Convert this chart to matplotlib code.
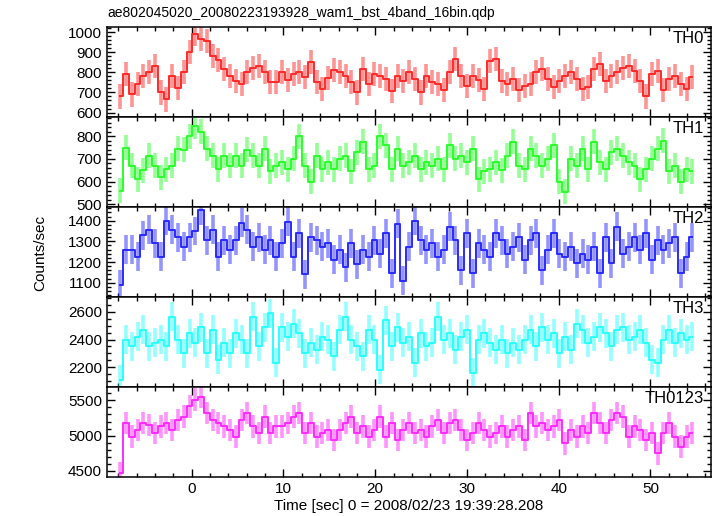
import numpy as np
import matplotlib
matplotlib.use("Agg")
import matplotlib.pyplot as plt
from matplotlib.ticker import MultipleLocator

plt.rcParams['font.family'] = ['Liberation Sans', 'DejaVu Sans']

title = "ae802045020_20080223193928_wam1_bst_4band_16bin.qdp"
xlabel = "Time [sec] 0 = 2008/02/23 19:39:28.208"
ylabel = "Counts/sec"

# light curve bins (sec) at ~0.63 s resolution
t_start = -7.8
t_step = 0.63

names = ["TH0", "TH1", "TH2", "TH3", "TH0123"]
colors = ["#ff2a2a", "#2aff2a", "#2a2aff", "#2affff", "#ff2aff"]

th0 = [680, 790, 690, 740, 780, 800, 830, 700, 665, 780,
       720, 800, 900, 990, 965, 955, 880, 860, 815, 780,
       755, 740, 800, 820, 830, 800, 750, 750, 800, 760,
       790, 800, 775, 850, 750, 715, 770, 810, 800, 780,
       750, 700, 815, 740, 790, 780, 765, 705, 780, 755,
       800, 765, 700, 780, 750, 740, 710, 800, 865, 780,
       730, 780, 760, 715, 855, 865, 755, 740, 765, 710,
       730, 740, 800, 815, 765, 725, 755, 780, 800, 765,
       715, 725, 815, 840, 755, 780, 800, 820, 830, 805,
       755, 680, 790, 805, 710, 765, 780, 740, 715, 775]
th1 = [560, 750, 670, 610, 650, 715, 670, 620, 655, 670,
       745, 740, 800, 845, 820, 745, 715, 655, 715, 670,
       715, 670, 740, 715, 670, 745, 645, 670, 685, 655,
       700, 800, 670, 600, 715, 655, 685, 655, 700, 715,
       645, 730, 775, 655, 670, 800, 760, 655, 745, 670,
       685, 715, 655, 685, 670, 700, 655, 760, 700, 715,
       685, 745, 610, 645, 655, 685, 650, 715, 775, 670,
       655, 745, 715, 670, 700, 760, 600, 555, 700, 670,
       745, 655, 775, 685, 655, 730, 745, 715, 685, 670,
       610, 655, 700, 745, 780, 645, 670, 600, 655, 645]
th2 = [1090, 1260, 1260, 1225, 1330, 1355, 1290, 1225, 1400, 1355,
       1320, 1275, 1320, 1350, 1450, 1305, 1355, 1225, 1305, 1260,
       1305, 1390, 1355, 1275, 1320, 1260, 1305, 1225, 1290, 1395,
       1225, 1340, 1140, 1320, 1305, 1275, 1290, 1210, 1260, 1175,
       1290, 1190, 1260, 1225, 1305, 1240, 1340, 1145, 1385, 1110,
       1275, 1400, 1305, 1260, 1290, 1225, 1260, 1370, 1305, 1160,
       1340, 1145, 1290, 1260, 1225, 1340, 1305, 1240, 1275, 1320,
       1210, 1305, 1340, 1160, 1260, 1340, 1240, 1225, 1275, 1195,
       1240, 1210, 1275, 1145, 1320, 1195, 1370, 1240, 1275, 1320,
       1260, 1340, 1210, 1305, 1260, 1290, 1320, 1145, 1225, 1320]
th3 = [2110, 2400, 2350, 2420, 2470, 2350, 2375, 2400, 2350, 2565,
       2400, 2300, 2445, 2375, 2490, 2300, 2470, 2255, 2375, 2300,
       2445, 2400, 2300, 2565, 2350, 2490, 2590, 2230, 2490, 2420,
       2515, 2445, 2300, 2375, 2325, 2420, 2400, 2280, 2470, 2565,
       2400, 2350, 2280, 2470, 2400, 2180, 2540, 2350, 2490, 2375,
       2420, 2230, 2445, 2350, 2375, 2565, 2400, 2445, 2325, 2420,
       2470, 2160, 2400, 2445, 2375, 2325, 2400, 2300, 2375, 2325,
       2400, 2470, 2350, 2490, 2400, 2445, 2300, 2420, 2325, 2515,
       2470, 2375, 2420, 2490, 2445, 2350, 2470, 2490, 2400, 2420,
       2470, 2375, 2255, 2230, 2400, 2470, 2375, 2445, 2400, 2420]
th0123 = [4470, 5180, 4985, 5080, 5180, 5150, 5035, 5130, 5180, 5080,
          5225, 5270, 5415, 5510, 5555, 5320, 5225, 5180, 5130, 5080,
          4985, 5225, 5320, 5130, 5035, 5270, 5035, 5130, 5130, 5180,
          5270, 5320, 5035, 5180, 4985, 5035, 5080, 4940, 5080, 5180,
          5270, 5035, 5130, 4985, 5080, 5270, 4985, 5180, 4940, 5080,
          5180, 5035, 5080, 4985, 5130, 5225, 5035, 5180, 5225, 5080,
          4940, 5035, 5180, 5080, 4985, 5035, 5130, 4985, 5080, 5130,
          4940, 5320, 5130, 5180, 5080, 5130, 5225, 4890, 5080, 4985,
          5130, 5035, 5320, 5180, 5035, 5225, 5320, 5270, 4985, 5130,
          5080, 4940, 5035, 4750, 5035, 5180, 4985, 4845, 4985, 5035]
series = [th0, th1, th2, th3, th0123]
errors = [60, 55, 70, 105, 160]

ylims = [(578, 1025), (488, 885), (1031, 1466), (2056, 2708), (4414, 5690)]
major_steps = [100, 100, 100, 200, 500]
minor_steps = [20, 20, 20, 50, 100]

fig, axes = plt.subplots(5, 1, sharex=True, figsize=(7.17, 5.16), dpi=100)
fig.subplots_adjust(left=0.1492, right=0.9916, top=0.9477, bottom=0.0756, hspace=0)

for ax, name, col, y, err, yl, mj, mn in zip(axes, names, colors, series, errors,
                                              ylims, major_steps, minor_steps):
    y = np.array(y, dtype=float)
    t = t_start + t_step * np.arange(len(y))
    ax.vlines(t, y - err, y + err, color=col, alpha=0.5, lw=2.6)
    ax.step(t, y, where='mid', color=col, lw=1.4)
    ax.set_ylim(*yl)
    ax.yaxis.set_major_locator(MultipleLocator(mj))
    ax.yaxis.set_minor_locator(MultipleLocator(mn))
    ax.xaxis.set_major_locator(MultipleLocator(10))
    ax.xaxis.set_minor_locator(MultipleLocator(2))
    ax.tick_params(which='both', direction='in', top=True, right=True, labelsize=11)
    ax.tick_params(which='major', length=6, width=1)
    ax.tick_params(which='minor', length=3, width=1)
    for s in ax.spines.values():
        s.set_linewidth(1.1)
    ax.text(0.988, 0.95, name, transform=ax.transAxes, ha='right', va='top', fontsize=12)

axes[0].set_xlim(-9.24, 56.6)
axes[-1].set_xlabel(xlabel, fontsize=11, labelpad=2)
fig.text(0.056, 0.51, ylabel, rotation=90, ha='center', va='center', fontsize=11)
fig.text(0.1492, 0.962, title, ha='left', va='bottom', fontsize=10)

fig.savefig("out.png", dpi=100)
